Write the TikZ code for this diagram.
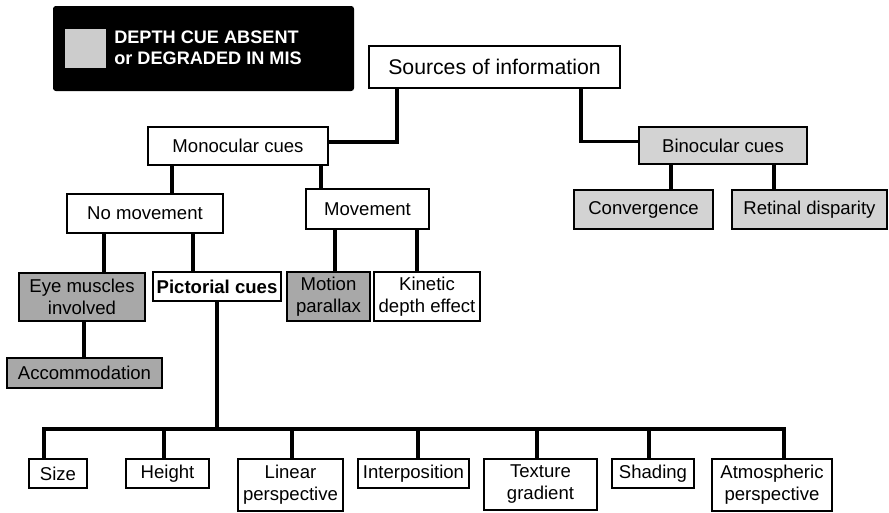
\documentclass[tikz,border=0pt]{standalone}
\usepackage{fontspec}
\setmainfont{Liberation Sans}
\usetikzlibrary{backgrounds}
\definecolor{cuegray}{HTML}{D3D3D3}
\definecolor{darkcue}{HTML}{A8A8A8}
\definecolor{keygray}{HTML}{CCCCCC}
\tikzset{
  box/.style={draw, line width=1.5pt, fill=white, align=center, inner sep=0pt,
              font=\fontsize{13.2}{15.6}\selectfont},
  lightbox/.style={box, fill=cuegray},
  darkbox/.style={box, fill=darkcue},
  px/.style 2 args={minimum width=#1*0.025cm, minimum height=#2*0.025cm},
  link/.style={line width=2.4pt, line cap=rect},
}

\begin{document}
\begin{tikzpicture}[x=0.025cm, y=-0.025cm]
    \useasboundingbox (0,0) rectangle (889,513);
    % legend
    \node[fill=black, rounded corners=2pt, px={301}{85}, inner sep=0pt] (legend) at (203.5,48.5) {};
    \node[fill=keygray, px={41}{39}, inner sep=0pt] (key) at (85.5,48.5) {};
    \node[anchor=west, text=white, align=left, inner sep=0pt,
          font=\fontsize{12.9}{15}\selectfont\bfseries] (keytext) at (114,47.5) {DEPTH CUE ABSENT\\or DEGRADED IN MIS};
    % tree
    \node[box, px={251}{42}, font=\fontsize{15.1}{17}\selectfont] (src) at (494.5,67) {Sources of information};
    \node[box, px={180}{38}] (mono) at (238,146) {Monocular cues};
    \node[lightbox, px={168}{37}] (bino) at (723,145.5) {Binocular cues};
    \node[box, px={156}{39}] (nomov) at (145,213.5) {No movement};
    \node[box, px={123}{40}] (mov) at (367.5,209) {Movement};
    \node[lightbox, px={139}{39}] (conv) at (643.5,209.5) {Convergence};
    \node[lightbox, px={155}{39}] (ret) at (809.5,209.5) {Retinal disparity};
    \node[darkbox, px={126}{48}] (eye) at (82,297) {Eye muscles\\involved};
    \node[box, px={128}{29}, font=\fontsize{13.2}{15.6}\selectfont\bfseries] (pict) at (217,286.5) {Pictorial cues};
    \node[darkbox, px={83}{49}] (motion) at (328.5,296.5) {Motion\\parallax};
    \node[box, px={106}{49}] (kin) at (427,296.5) {Kinetic\\depth effect};
    \node[darkbox, px={155}{30}] (acc) at (84.5,373) {Accommodation};
    \node[box, px={58}{29}] (size) at (58,473.5) {Size};
    \node[box, px={83}{29}] (height) at (167.5,473.5) {Height};
    \node[box, px={105}{52}] (linear) at (290.5,485) {Linear\\perspective};
    \node[box, px={111}{29}] (interp) at (413.5,473.5) {Interposition};
    \node[box, px={113}{51}] (texture) at (540.5,484.5) {Texture\\gradient};
    \node[box, px={82}{29}] (shading) at (653,473.5) {Shading};
    \node[box, px={120}{52}] (atmos) at (772,485) {Atmospheric\\perspective};
    \coordinate (bus) at (216,429);
    % connectors
    \begin{scope}[on background layer]
      \draw[link] ([xshift=-2.4375cm]src.south) |- ([yshift=0.1cm]mono.east);
      \draw[link] ([xshift=2.1625cm]src.south) |- ([yshift=0.1cm]bino.west);
      \foreach \a/\b/\dx in {mono/nomov/-1.65, mono/mov/2.075, bino/conv/-1.3, bino/ret/1.275,
                             nomov/eye/-1.025, nomov/pict/1.2, mov/motion/-0.8125, mov/kin/1.2375, eye/acc/0.05}
        \draw[link] ([xshift=\dx cm]\a.south) -- ([xshift=\dx cm]\a.south |- \b.north);
      \draw[link] (pict.south) -- (pict.south |- bus);
      \draw[link] ([xshift=-0.35cm]size.north |- bus) -- ([xshift=0.3cm]atmos.north |- bus);
      \foreach \b/\dx in {size/-0.35, height/-0.0875, linear/0.0375, interp/0.1125,
                          texture/-0.0875, shading/-0.1, atmos/0.3}
        \draw[link] ([xshift=\dx cm]\b.north) -- ([xshift=\dx cm]\b.north |- bus);
    \end{scope}
\end{tikzpicture}
\end{document}
